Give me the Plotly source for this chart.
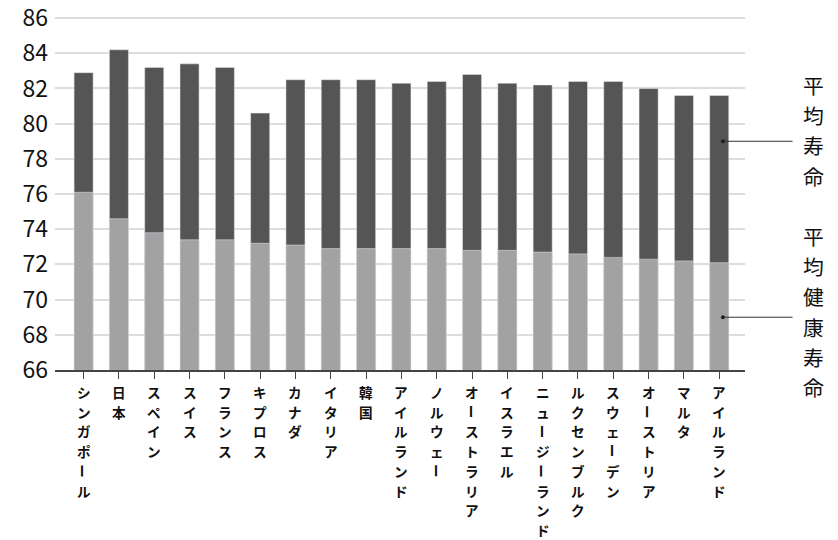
import plotly.graph_objects as go

# 国名(左から)
countries = [
    "シンガポール", "日本", "スペイン", "スイス", "フランス", "キプロス", "カナダ",
    "イタリア", "韓国", "アイルランド", "ノルウェー", "オーストラリア", "イスラエル",
    "ニュージーランド", "ルクセンブルク", "スウェーデン", "オーストリア", "マルタ",
    "アイルランド",
]
# 平均寿命(年)
life_expectancy = [
    82.9, 84.2, 83.2, 83.4, 83.2, 80.6, 82.5, 82.5, 82.5, 82.3,
    82.4, 82.8, 82.3, 82.2, 82.4, 82.4, 82.0, 81.6, 81.6,
]
# 平均健康寿命(年)
healthy_life = [
    76.1, 74.6, 73.8, 73.4, 73.4, 73.2, 73.1, 72.9, 72.9, 72.9,
    72.9, 72.8, 72.8, 72.7, 72.6, 72.4, 72.3, 72.2, 72.1,
]
y_ticks = list(range(66, 87, 2))
series_labels = ["平均寿命", "平均健康寿命"]
callout_values = [79, 69]  # 吹き出し線の高さ

FONT = "Noto Sans CJK JP"
DARK = "#555555"
LIGHT = "#a2a2a2"
STEP = 19.7      # 国名の文字送り(px)
LAB_FS = 13.6
LEG_STEP = 30.2  # 右側ラベルの文字送り(px)
LEG_FS = 20.8

W, H = 838, 540

x_idx = list(range(len(countries)))

fig = go.Figure()
fig.add_trace(go.Bar(x=x_idx, y=life_expectancy, marker_color=DARK,
                     width=0.54, name=series_labels[0]))
fig.add_trace(go.Bar(x=x_idx, y=healthy_life, marker_color=LIGHT,
                     width=0.54, name=series_labels[1]))

# 縦書きの国名ラベル(1文字ずつ、長音記号は回転)
for i, name in enumerate(countries):
    for k, ch in enumerate(name):
        fig.add_annotation(
            x=i, xref="x", y=0, yref="paper", yanchor="middle", xanchor="center",
            yshift=-(22 + k * STEP), text=f"<b>{ch}</b>", showarrow=False,
            textangle=90 if ch == "ー" else 0,
            font=dict(family=FONT, size=LAB_FS, color="#111111"),
        )

# 右側の凡例(縦書き) と 引き出し線
legend_center = [85, 236]
for label, val, c0 in zip(series_labels, callout_values, legend_center):
    for k, ch in enumerate(label):
        fig.add_annotation(
            x=1.099, xref="paper", y=1, yref="paper", yanchor="middle",
            xanchor="center", yshift=-(c0 - 16 + k * LEG_STEP), text=ch,
            showarrow=False,
            font=dict(family=FONT, size=LEG_FS, color="#111111"),
        )
    fig.add_shape(type="line", xref="paper", yref="y", x0=0.968, x1=1.069,
                  y0=val, y1=val, line=dict(color="#333333", width=1))
    fig.add_shape(type="circle", xref="paper", yref="y", xsizemode="pixel",
                  ysizemode="pixel", xanchor=0.968, yanchor=val,
                  x0=-2, x1=2, y0=-2, y1=2,
                  fillcolor="#222222", line=dict(width=0))

fig.update_layout(
    width=W, height=H,
    margin=dict(l=55, r=W - 745, t=16, b=H - 370, autoexpand=False),
    barmode="overlay",
    showlegend=False,
    plot_bgcolor="white", paper_bgcolor="white",
    font=dict(family=FONT, color="#111111"),
    xaxis=dict(
        range=[-0.81, 18.73], tickmode="array", tickvals=x_idx,
        showticklabels=False, tickson="boundaries", ticks="outside",
        ticklen=7, tickcolor="#444444", showgrid=False, automargin=False,
        showline=True, linecolor="#444444", linewidth=1.5,
    ),
    yaxis=dict(
        range=[66, 86.12], tickvals=y_ticks, showgrid=True, automargin=False,
        gridcolor="#dddddd", gridwidth=1.5, zeroline=False,
        ticklabeloverflow="allow",
        tickfont=dict(size=23, color="#111111"), ticklabelstandoff=6,
    ),
)

# ページ本体の既定余白(8px)を消して図を左上にぴったり置く
fig.write_html("out.html", config={"displayModeBar": False},
               post_script="document.body.style.margin = '0';")
